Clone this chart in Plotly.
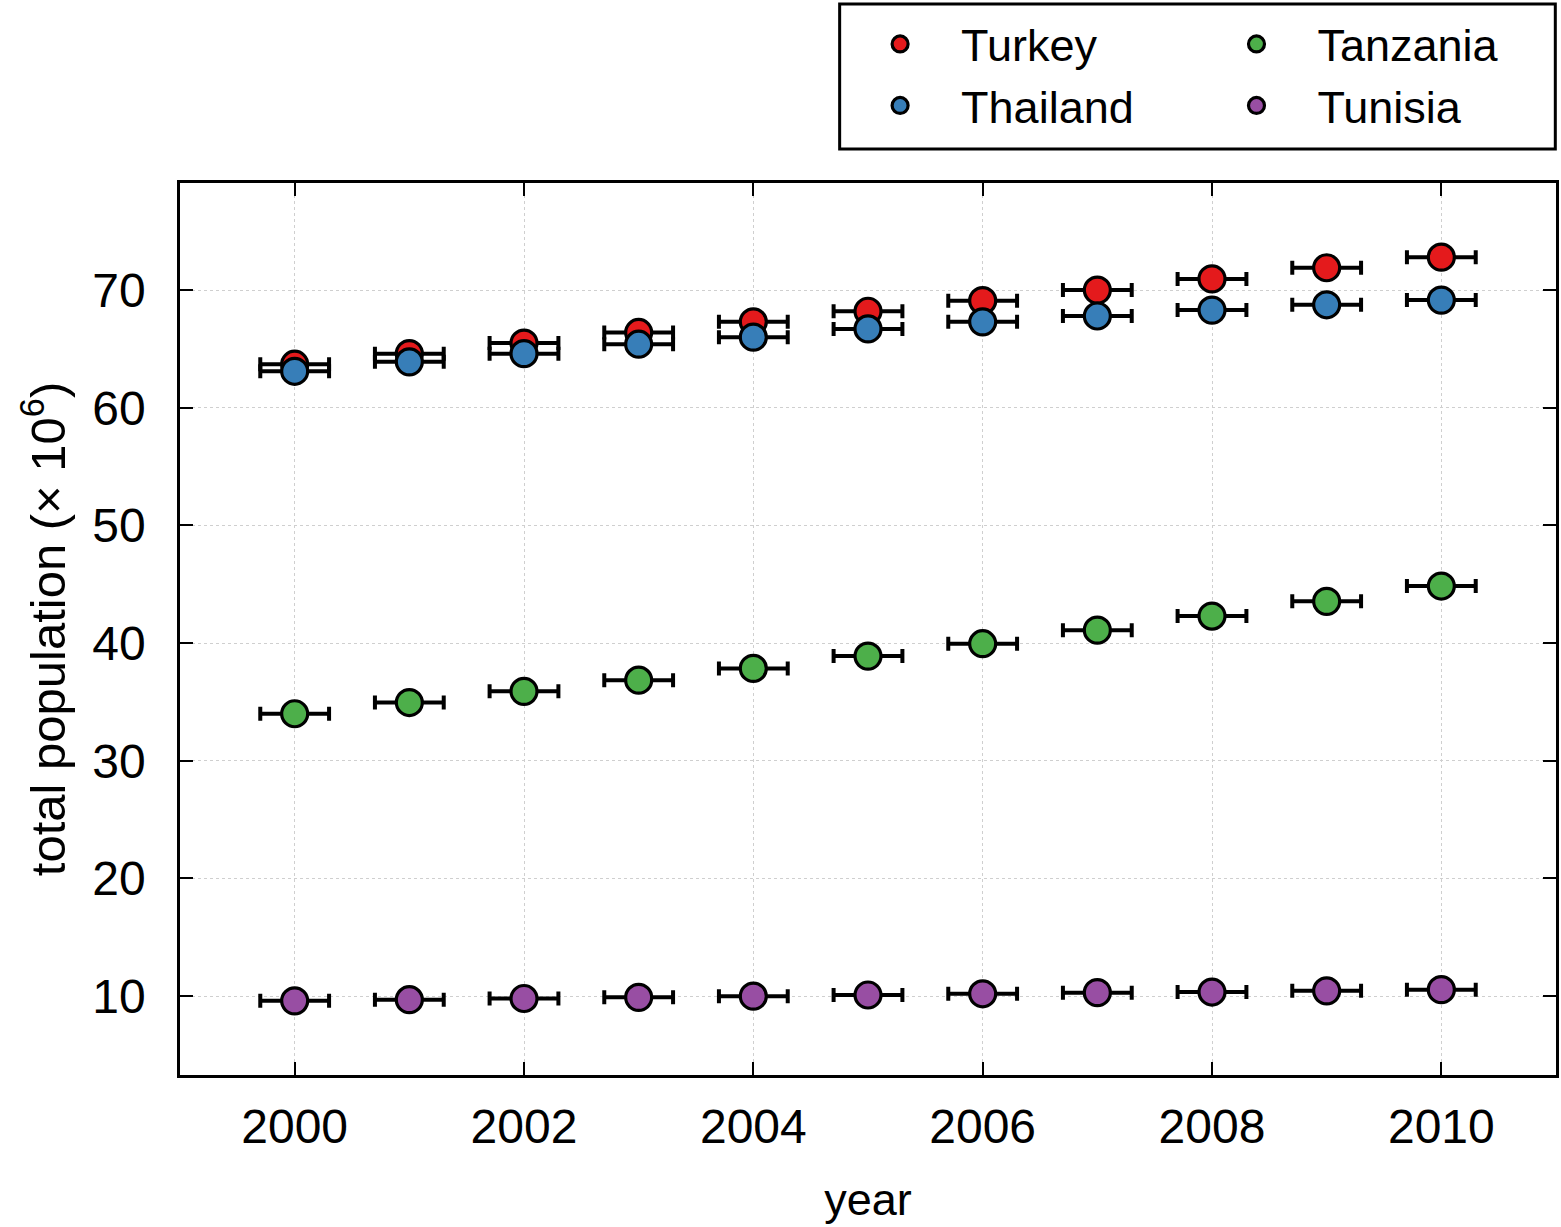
import plotly.graph_objects as go

# Population estimates (millions)
years = [2000, 2001, 2002, 2003, 2004, 2005, 2006, 2007, 2008, 2009, 2010]
turkey = [63.7, 64.6, 65.5, 66.4, 67.3, 68.2, 69.1, 70.0, 70.95, 71.9, 72.8]
thailand = [63.1, 63.9, 64.6, 65.4, 66.0, 66.7, 67.3, 67.8, 68.3, 68.75, 69.15]
tanzania = [34.0, 34.95, 35.9, 36.85, 37.85, 38.9, 39.95, 41.1, 42.3, 43.55, 44.85]
tunisia = [9.6, 9.7, 9.8, 9.9, 10.0, 10.1, 10.2, 10.3, 10.35, 10.45, 10.55]
year_err = 0.3

# name, values, colour, legend column
series = [
    ("Turkey", turkey, "#e41a1c", "legend"),
    ("Thailand", thailand, "#377eb8", "legend"),
    ("Tanzania", tanzania, "#4daf4a", "legend2"),
    ("Tunisia", tunisia, "#984ea3", "legend2"),
]

FONT = "Liberation Sans, Arial, sans-serif"

fig = go.Figure()
for name, vals, color, leg in series:
    fig.add_trace(go.Scatter(
        x=years,
        y=vals,
        mode="markers",
        name=name,
        legend=leg,
        marker=dict(size=26, color=color, line=dict(color="black", width=3.2)),
        error_x=dict(type="constant", value=year_err, color="black",
                     thickness=4, width=7),
    ))

legend_common = dict(
    orientation="v",
    yanchor="top",
    y=1.196,
    xanchor="left",
    bgcolor="rgba(0,0,0,0)",
    borderwidth=0,
    font=dict(size=45),
    itemsizing="trace",
    itemwidth=112,
    tracegroupgap=0,
)

fig.update_layout(
    width=1561,
    height=1227,
    margin=dict(l=180, r=2, t=183, b=152),
    paper_bgcolor="white",
    plot_bgcolor="white",
    font=dict(family=FONT, size=48, color="black"),
    legend=dict(legend_common, x=0.479),
    legend2=dict(legend_common, x=0.738),
    # box around the two legend columns
    shapes=[dict(type="rect", xref="paper", yref="paper",
                 x0=0.4794, x1=0.9995, y0=1.0381, y1=1.2008,
                 line=dict(color="black", width=3))],
)

fig.update_xaxes(
    range=[1999, 2011],
    tickmode="linear", tick0=2000, dtick=2,
    showline=True, linecolor="black", linewidth=2.5, mirror="ticks",
    ticks="inside", ticklen=13, tickwidth=2, tickcolor="black",
    showgrid=True, gridcolor="#cfcfcf", griddash="dot", gridwidth=1,
    zeroline=False,
    ticklabelstandoff=8,
    title=dict(text="year", standoff=32, font=dict(size=45)),
    tickfont=dict(size=48),
)
fig.update_yaxes(
    range=[3.3, 79.1],
    tickmode="linear", tick0=10, dtick=10,
    showline=True, linecolor="black", linewidth=2.5, mirror="ticks",
    ticks="inside", ticklen=13, tickwidth=2, tickcolor="black",
    showgrid=True, gridcolor="#cfcfcf", griddash="dot", gridwidth=1,
    zeroline=False,
    ticklabelstandoff=22,
    title=dict(text="total population (× 10<sup>6</sup>)", standoff=12,
               font=dict(size=49)),
    tickfont=dict(size=48),
)

fig.write_html("out.html", config={"displayModeBar": False},
               post_script="document.body.style.margin='0px';")
